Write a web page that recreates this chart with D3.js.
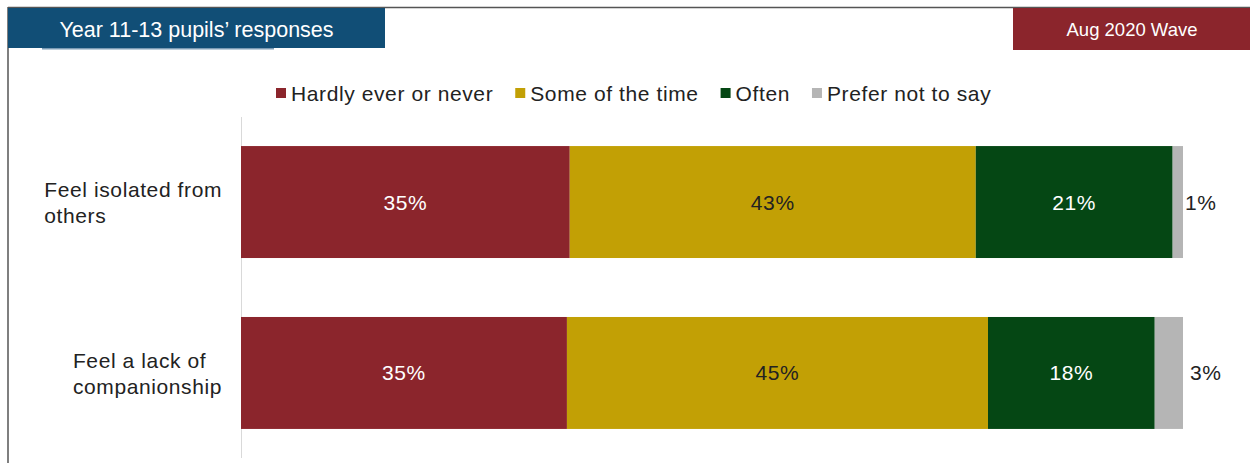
<!DOCTYPE html>
<html><head><meta charset="utf-8">
<script src="https://cdn.jsdelivr.net/npm/d3@7"></script>
<style>html,body{margin:0;padding:0;background:#fff;}svg{display:block;}</style>
</head><body>
<svg id="chart" width="1255" height="463"></svg>
<script>
const categories = [["Feel isolated from","others"],["Feel a lack of","companionship"]];
const seriesNames = ["Hardly ever or never","Some of the time","Often","Prefer not to say"];
const hardlyEver = [34.9, 34.6];
const someTime = [43.1, 44.7];
const often = [20.9, 17.7];
const preferNot = [1.1, 3.0];
const colors = ["#8B252C","#C2A005","#054714","#B5B5B5"];
const labelColors = ["#ffffff","#222222","#ffffff","#222222"];
const titleText = "Year 11-13 pupils\u2019 responses";
const waveText = "Aug 2020 Wave";

const svg = d3.select("#chart");
const font = "'Liberation Sans', Arial, sans-serif";
const ls = 0.6;

// frame
svg.append("line").attr("x1",8).attr("x2",1250).attr("y1",7.5).attr("y2",7.5).attr("stroke","#555").attr("stroke-width",1.5);
svg.append("line").attr("x1",8).attr("x2",8).attr("y1",7).attr("y2",463).attr("stroke","#555").attr("stroke-width",1.5);

// header boxes
svg.append("rect").attr("x",8).attr("y",8).attr("width",377).attr("height",40).attr("fill","#114E76");
svg.append("rect").attr("x",42).attr("y",48).attr("width",232).attr("height",1.5).attr("fill","#7A9BB5");
svg.append("text").attr("x",196.5).attr("y",36.5).attr("text-anchor","middle").attr("fill","#fff")
  .attr("font-family",font).attr("font-size",21.5).text(titleText);
svg.append("rect").attr("x",1013).attr("y",8).attr("width",237).attr("height",42).attr("fill","#8B252C");
svg.append("text").attr("x",1132).attr("y",36).attr("text-anchor","middle").attr("fill","#fff")
  .attr("font-family",font).attr("font-size",18.5).text(waveText);

// data
const data = categories.map((c,i)=>({cat:i, vals:[hardlyEver[i],someTime[i],often[i],preferNot[i]]}));
const stack = d3.stack().keys([0,1,2,3]).value((d,k)=>d.vals[k]);
const series = stack(data);

const x = d3.scaleLinear().domain([0,100]).range([241,1183]);
const y = d3.scaleBand().domain([0,1]).range([117,458]).paddingInner(0.345).paddingOuter(0.17);

// axis line
svg.append("line").attr("x1",241.5).attr("x2",241.5).attr("y1",117).attr("y2",458).attr("stroke","#d9d9d9").attr("stroke-width",1);

series.forEach((s,k)=>{
  svg.append("g").selectAll("rect").data(s).join("rect")
    .attr("x",d=>x(d[0])).attr("width",d=>x(d[1])-x(d[0]))
    .attr("y",(d,i)=>y(i)).attr("height",y.bandwidth()).attr("fill",colors[k]);
  svg.append("g").selectAll("text").data(s).join("text")
    .attr("x",d=> k===3 ? x(d[1])+ (d[1]-d[0]<2?2:7) : (x(d[0])+x(d[1]))/2)
    .attr("y",(d,i)=>y(i)+y.bandwidth()/2+7.5)
    .attr("text-anchor",k===3?"start":"middle")
    .attr("letter-spacing",ls)
    .attr("fill",labelColors[k]).attr("font-family",font).attr("font-size",21)
    .text(d=>Math.round(d[1]-d[0])+"%");
});

// category labels
categories.forEach((lines,i)=>{
  const g = svg.append("text").attr("font-family",font).attr("font-size",21).attr("letter-spacing",ls).attr("fill","#222");
  const cy = y(i)+y.bandwidth()/2;
  lines.forEach((l,j)=>{
    g.append("tspan").attr("x",0).attr("y",cy - 5 + j*26).text(l);
  });
  const w = d3.max(g.selectAll("tspan").nodes(), n=>n.getComputedTextLength());
  g.selectAll("tspan").attr("x",222 - w);
});

// legend
const leg = svg.append("g");
let lx = 276;
seriesNames.forEach((n,k)=>{
  leg.append("rect").attr("x",lx).attr("y",88).attr("width",10).attr("height",10).attr("fill",colors[k]);
  const t = leg.append("text").attr("x",lx+15).attr("y",100.5).attr("font-family",font).attr("font-size",21)
    .attr("letter-spacing",ls).attr("fill","#222").text(n);
  lx += 15 + t.node().getComputedTextLength() + 22;
});
</script>
</body></html>
